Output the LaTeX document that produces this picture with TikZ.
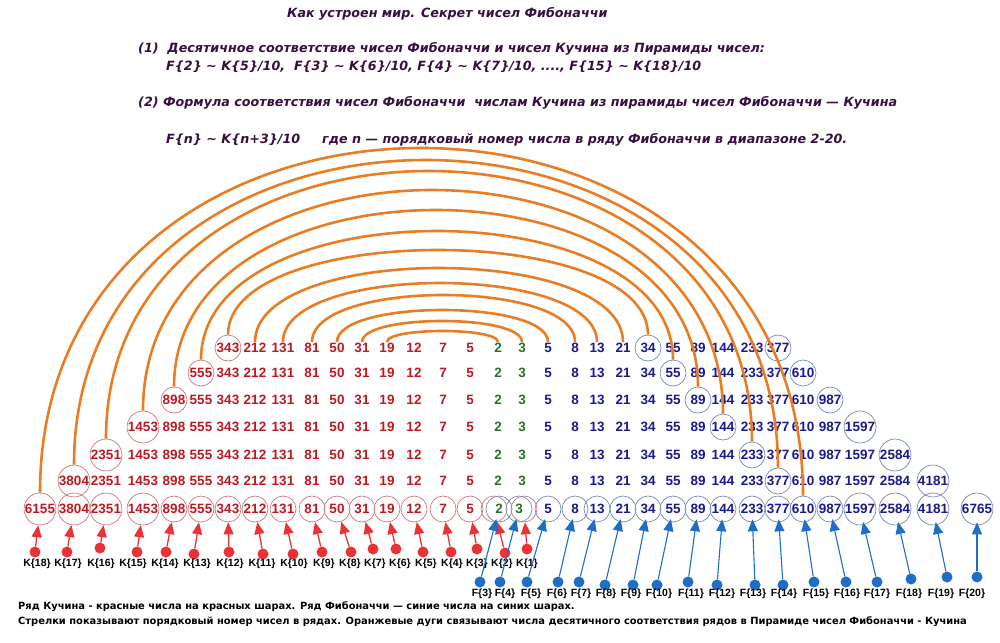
\documentclass[tikz,border=0pt]{standalone}
\usepackage{fontspec}
\setmainfont{DejaVu Sans}[ItalicFont={DejaVu Sans Oblique},BoldItalicFont={DejaVu Sans Bold Oblique}]
\newfontfamily\numfont{Liberation Sans}
\usetikzlibrary{arrows.meta,calc}
\definecolor{titlecol}{RGB}{55,15,65}
\definecolor{kred}{RGB}{190,25,35}
\definecolor{fblue}{RGB}{25,25,145}
\definecolor{fgreen}{RGB}{40,115,40}
\definecolor{ringred}{RGB}{205,120,125}
\definecolor{ringblue}{RGB}{110,140,180}
\definecolor{arrred}{RGB}{235,50,55}
\definecolor{arrblue}{RGB}{30,110,200}
\definecolor{arcorange}{RGB}{232,125,35}
\newcommand{\kuchina}{3/5/470,4/7/443,5/12/414,6/19/387,7/31/362,8/50/337,9/81/312,10/131/283,11/212/255,12/343/228,13/555/201,14/898/174,15/1453/143,16/2351/106,17/3804/74,18/6155/40}
\newcommand{\fibo}{5/5/548,6/8/575,7/13/597,8/21/623,9/34/648,10/55/673,11/89/698,12/144/723,13/233/752,14/377/778,15/610/803,16/987/830,17/1597/860,18/2584/895,19/4181/933,20/6765/977}
\tikzset{
  num/.style={font=\numfont\bfseries\fontsize{13.5}{15}\selectfont,inner sep=1pt},
  knum/.style={num,text=kred},
  fnum/.style={num,text=fblue},
  gnum/.style={num,text=fgreen},
  kball/.style={circle,draw=ringred,line width=0.7pt,minimum size=26,inner sep=0.2pt},
  fball/.style={circle,draw=ringblue,line width=0.7pt,minimum size=26,inner sep=0.2pt},
  kdot/.style={circle,fill=arrred,inner sep=0,minimum size=11},
  fdot/.style={circle,fill=arrblue,inner sep=0,minimum size=11},
  karrow/.style={draw=arrred,line width=1.3pt,-{Triangle[length=12pt,width=10pt]}},
  farrow/.style={draw=arrblue,line width=1.1pt,-{Triangle[length=12pt,width=10pt]},shorten >=-3pt},
  arcline/.style={draw=arcorange,line width=2.6pt},
  lbl/.style={font=\numfont\bfseries\fontsize{10.5}{12}\selectfont,inner sep=0},
  head/.style={font=\bfseries\itshape\fontsize{12.7}{14}\selectfont,text=titlecol,anchor=west,inner sep=0},
  foot/.style={font=\bfseries\fontsize{9.9}{11}\selectfont,anchor=west,inner sep=0}
}
\begin{document}
\begin{tikzpicture}[x=1pt,y=-1pt]
\useasboundingbox (0,0) rectangle (1000,642);

\node[head] (title) at (287,14) {Как устроен мир. Секрет чисел Фибоначчи};
\node[head] (law1) at (138,49) {(1)\ \ Десятичное соответствие чисел Фибоначчи и чисел Кучина из Пирамиды чисел:};
\node[head] (law1b) at (166,67) {F\{2\} \textasciitilde{} K\{5\}/10,\ \ F\{3\} \textasciitilde{} K\{6\}/10, F\{4\} \textasciitilde{} K\{7\}/10, ...., F\{15\} \textasciitilde{} K\{18\}/10};
\node[head] (law2) at (138,103) {(2) Формула соответствия чисел Фибоначчи\ \ числам Кучина из пирамиды чисел Фибоначчи — Кучина};
\node[head] (law2b) at (166,140) {F\{n\} \textasciitilde{} K\{n+3\}/10};
\node[head] (law2c) at (322,140) {где n — порядковый номер числа в ряду Фибоначчи в диапазоне 2-20.};

\foreach \row/\y in {1/348,2/373,3/400,4/427,5/455,6/481}{
  \pgfmathtruncatemacro\kl{11+\row}
  \pgfmathtruncatemacro\fm{8+\row}
  \pgfmathtruncatemacro\fl{13+\row}
  \foreach \i/\v/\x in \kuchina{
    \ifnum\i<\kl \node[knum] (k\i r\row) at (\x,\y) {\v};\fi
    \ifnum\i=\kl \node[knum,kball] (k\i r\row) at (\x,\y) {\v};\fi
  }
  \node[gnum] (f3r\row) at (498,\y) {2};
  \node[gnum] (f4r\row) at (522,\y) {3};
  \foreach \i/\v/\x in \fibo{
    \ifnum\i<\fl
      \ifnum\i=\fm \node[fnum,fball] (f\i r\row) at (\x,\y) {\v};
      \else \node[fnum] (f\i r\row) at (\x,\y) {\v};\fi
    \fi
    \ifnum\i=\fl \node[fnum,fball] (f\i r\row) at (\x,\y) {\v};\fi
  }
}

\foreach \i/\v/\x in \kuchina{
  \node[knum,kball] (k\i r7) at (\x,509) {\v};
}
\node[kball] (k2r7) at (494,509) {};
\node[kball] (k1r7) at (524,509) {};
\node[gnum,fball] (f3r7) at (499,509) {2};
\node[gnum,fball] (f4r7) at (519,509) {3};
\foreach \i/\v/\x in \fibo{
  \node[fnum,fball] (f\i r7) at (\x,509) {\v};
}

\foreach \j/\row/\peak in {3/1/331,4/1/321,5/1/310,6/1/295,7/1/283,8/1/268,9/1/250,10/2/231,11/3/210,12/4/190,13/5/171,14/6/160,15/7/148}{
  \pgfmathtruncatemacro\m{\j+3}
  \draw[arcline] let \p1=(k\m r\row.north), \p2=(f\j r\row.north) in
    (\p1) .. controls (\x1,{\y1-4/3*(\y1+\peak)}) and (\x2,{\y2-4/3*(\y2+\peak)}) .. (\p2);
}

\foreach \i/\x/\y/\lx in {18/35/552/37,17/67/552/68,16/100/548/101,15/137/552/133,14/166/552/165,13/194/554/197,12/229/552/230,11/263/554/262,10/293/554/294,9/322/552/324,8/351/552/350,7/373/549/375,6/396/549/400,5/423/552/426,4/451/552/452,3/477/549/477,2/505/553/502,1/527/549/527}{
  \node[kdot] (kd\i) at (\x,\y) {};
  \node[lbl] (kl\i) at (\lx,564) {K\{\i\}};
  \draw[karrow] (kd\i) -- (k\i r7);
}

\foreach \i/\x/\y/\lx in {3/480/582/482,4/500/582/505,5/527/582/531,6/558/582/557,7/579/582/581,8/605/585/606,9/633/585/631,10/657/585/659,11/688/582/691,12/717/585/722,13/755/585/753,14/783/585/784,15/814/582/816,16/846/582/847,17/877/582/877,18/911/579/909,19/947/577/941,20/977/577/972}{
  \node[fdot] (fd\i) at (\x,\y) {};
  \node[lbl] (fl\i) at (\lx,594) {F\{\i\}};
  \draw[farrow] (fd\i) -- (f\i r7);
}

\node[foot] (note1) at (18,607) {Ряд Кучина - красные числа на красных шарах. Ряд Фибоначчи — синие числа на синих шарах.};
\node[foot] (note2) at (18,622) {Стрелки показывают порядковый номер чисел в рядах. Оранжевые дуги связывают числа десятичного соответствия рядов в Пирамиде чисел Фибоначчи - Кучина};
\end{tikzpicture}
\end{document}
